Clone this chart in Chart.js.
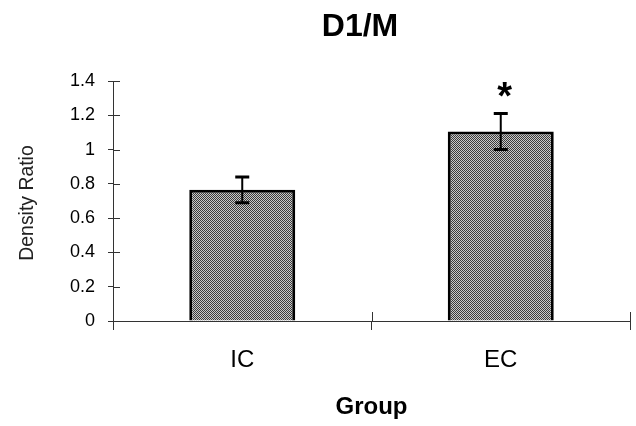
<!DOCTYPE html>
<html>
<head>
<meta charset="utf-8">
<script src="https://cdn.jsdelivr.net/npm/chart.js@4.4.1/dist/chart.umd.min.js"></script>
<style>
  html, body { margin: 0; padding: 0; background: #fff; }
  #wrap { width: 636px; height: 426px; }
</style>
</head>
<body>
<div id="wrap"><canvas id="bar-chart" width="636" height="426"></canvas></div>
<script>
// values
const groups = ["IC", "EC"];
const densityRatio = [0.765, 1.105];
const errorSize = [0.075, 0.105];
const significant = [false, true];
const yTicks = [0, 0.2, 0.4, 0.6, 0.8, 1, 1.2, 1.4];

const FONT = "Arial, 'Liberation Sans', sans-serif";

// dithered grey fill like the scanned print
const makePattern = () => {
  const c = document.createElement("canvas");
  c.width = 2;
  c.height = 2;
  const g = c.getContext("2d");
  g.fillStyle = "#c8c8c8";
  g.fillRect(0, 0, 2, 2);
  g.fillStyle = "#3a3a3a";
  g.fillRect(0, 0, 1, 1);
  g.fillRect(1, 1, 1, 1);
  return g.createPattern(c, "repeat");
};

const extras = {
  id: "extras",
  afterDatasetsDraw(chart) {
    const { ctx, scales } = chart;
    const x = scales.x, y = scales.y;
    ctx.save();
    ctx.strokeStyle = "#000";
    // error bars
    densityRatio.forEach((v, i) => {
      const cx = x.getPixelForValue(i);
      const top = y.getPixelForValue(v + errorSize[i]);
      const bot = y.getPixelForValue(v - errorSize[i]);
      ctx.lineWidth = 2;
      ctx.beginPath();
      ctx.moveTo(cx, top);
      ctx.lineTo(cx, bot);
      ctx.stroke();
      ctx.lineWidth = 3;
      ctx.beginPath();
      ctx.moveTo(cx - 7, top);
      ctx.lineTo(cx + 7, top);
      ctx.moveTo(cx - 7, bot);
      ctx.lineTo(cx + 7, bot);
      ctx.stroke();
      if (significant[i]) {
        ctx.fillStyle = "#000";
        ctx.font = "bold 38px " + FONT;
        ctx.textAlign = "center";
        ctx.textBaseline = "top";
        ctx.fillText("*", cx + 4, top - 34);
      }
    });
    // tick marks crossing into the plot
    ctx.strokeStyle = "#333";
    ctx.lineWidth = 1;
    ctx.beginPath();
    yTicks.forEach((t) => {
      const py = Math.round(y.getPixelForValue(t)) + 0.5;
      ctx.moveTo(x.left, py);
      ctx.lineTo(x.left + 7, py);
    });
    [x.left, (x.left + x.right) / 2, x.right].forEach((px) => {
      px = Math.round(px) + 0.5;
      ctx.moveTo(px, y.bottom);
      ctx.lineTo(px, y.bottom - 9);
    });
    ctx.stroke();
    // chart title
    ctx.fillStyle = "#000";
    ctx.font = "bold 32px " + FONT;
    ctx.textAlign = "center";
    ctx.textBaseline = "alphabetic";
    ctx.fillText("D1/M", 360, 36);
    // y axis title
    ctx.fillStyle = "#222";
    ctx.font = "20px " + FONT;
    ctx.translate(27, 203);
    ctx.rotate(-Math.PI / 2);
    ctx.scale(0.97, 1);
    ctx.textBaseline = "middle";
    ctx.fillText("Density Ratio", 0, 0);
    ctx.restore();
  },
};

new Chart("bar-chart", {
  type: "bar",
  data: {
    labels: groups,
    datasets: [
      {
        label: "Density Ratio",
        data: densityRatio,
        backgroundColor: makePattern(),
        borderColor: "#000",
        borderWidth: 3,
        categoryPercentage: 1,
        barPercentage: 0.41,
      },
    ],
  },
  options: {
    responsive: false,
    animation: false,
    layout: { padding: { left: 0, right: 6, top: 81, bottom: 0 } },
    plugins: {
      legend: { display: false },
      tooltip: { enabled: false },
    },
    scales: {
      x: {
        offset: true,
        border: { color: "#333", width: 1 },
        grid: { offset: true, drawOnChartArea: false, tickLength: 9, color: "#333" },
        ticks: {
          color: "#000",
          padding: 16,
          font: { family: FONT, size: 24 },
        },
        title: {
          display: true,
          text: "Group",
          color: "#000",
          font: { family: FONT, size: 24, weight: "bold" },
          padding: { top: 0, bottom: 4 },
        },
        afterFit: (s) => { s.height = 105; },
      },
      y: {
        min: 0,
        max: 1.4,
        border: { color: "#333", width: 1 },
        grid: { drawOnChartArea: false, tickLength: 5, color: "#333" },
        afterBuildTicks: (s) => { s.ticks = yTicks.map((v) => ({ value: v })); },
        ticks: {
          color: "#000",
          padding: 13,
          font: { family: FONT, size: 18 },
          callback: (v) => String(Math.round(v * 10) / 10),
        },
        afterFit: (s) => { s.width = 113; },
      },
    },
  },
  plugins: [extras],
});
</script>
</body>
</html>
